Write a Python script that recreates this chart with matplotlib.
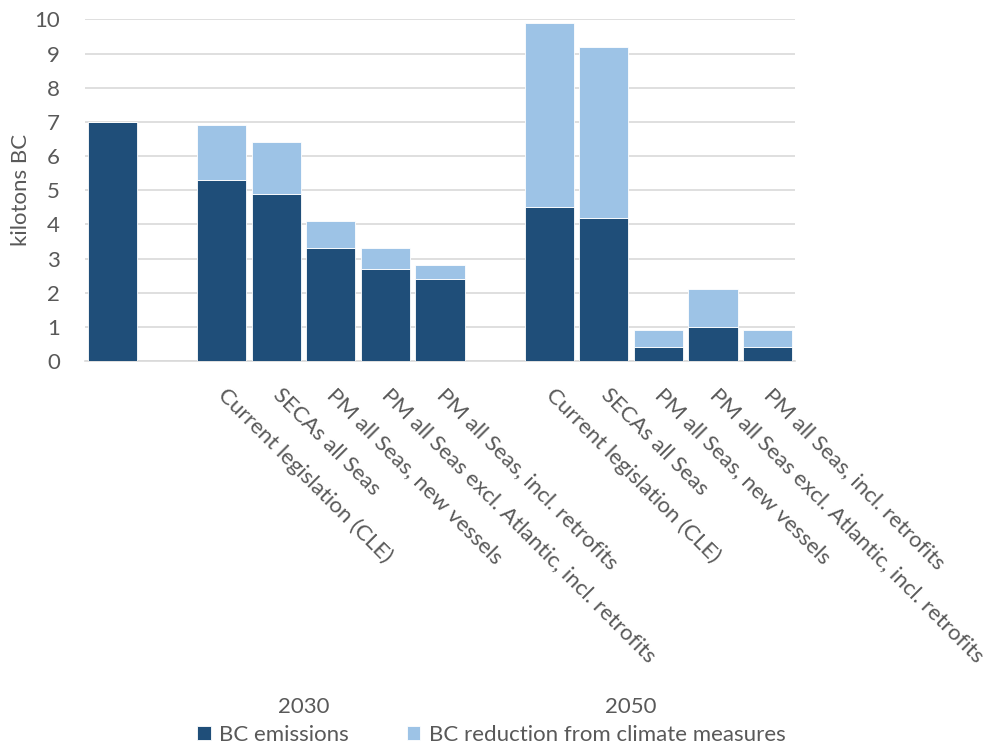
import matplotlib
matplotlib.use('Agg')
import matplotlib.pyplot as plt
import matplotlib.transforms as mtransforms

plt.rcParams['font.family'] = ['Lato', 'DejaVu Sans']

# data
labels = ['', '',
          'Current legislation (CLE)', 'SECAs all Seas', 'PM all Seas, new vessels',
          'PM all Seas excl. Atlantic, incl. retrofits', 'PM all Seas, incl. retrofits',
          '',
          'Current legislation (CLE)', 'SECAs all Seas', 'PM all Seas, new vessels',
          'PM all Seas excl. Atlantic, incl. retrofits', 'PM all Seas, incl. retrofits']
emissions = [7.0, 0, 5.3, 4.9, 3.3, 2.7, 2.4, 0, 4.5, 4.2, 0.4, 1.0, 0.4]
reduction = [0, 0, 1.6, 1.5, 0.8, 0.6, 0.4, 0, 5.4, 5.0, 0.5, 1.1, 0.5]
groups = ['2030', '2050']
group_pos = [3.5, 9.5]

dark = '#1F4E79'
light = '#9DC3E6'
txt = '#595959'
fs = 16

fig = plt.figure(figsize=(9.93, 7.47), dpi=100)
ax = fig.add_axes([0.0856, 0.5167, 0.715, 0.4572])

x = list(range(len(labels)))
ax.bar(x, emissions, width=0.9, color=dark, edgecolor='white', linewidth=0.6,
       label='BC emissions', zorder=3)
ax.bar(x, reduction, width=0.9, bottom=emissions, color=light, edgecolor='white',
       linewidth=0.6, label='BC reduction from climate measures', zorder=3)

ax.set_xlim(-0.5, 12.5)
ax.set_ylim(0, 10)
ax.set_yticks(range(0, 11))
ax.yaxis.grid(True, color='#D9D9D9', linewidth=1.2, zorder=0)
for s in ['top', 'right', 'left']:
    ax.spines[s].set_visible(False)
ax.spines['bottom'].set_color('#D9D9D9')
ax.spines['bottom'].set_linewidth(1.2)
ax.tick_params(axis='both', length=0, labelsize=fs, colors=txt)
ax.tick_params(axis='y', pad=18)

ax.set_xticks(x)
ax.set_xticklabels(labels, rotation=-45, ha='left', va='center',
                   rotation_mode='anchor', fontsize=fs, color=txt)
ax.tick_params(axis='x', pad=22)

ax.set_ylabel('kilotons BC', fontsize=fs, color=txt, labelpad=2)

# group labels under the category labels
trans = mtransforms.blended_transform_factory(ax.transData, fig.transFigure)
for g, p in zip(groups, group_pos):
    ax.text(p, 1 - 707 / 747, g, transform=trans, ha='center', va='center',
            fontsize=fs, color=txt)

fig.legend(loc='center', bbox_to_anchor=(0.495, 1 - 735 / 747), ncol=2,
           frameon=False, fontsize=fs, labelcolor=txt, handlelength=0.6,
           handleheight=0.6, columnspacing=2.6, handletextpad=0.4)

fig.savefig('out.png', dpi=100)
